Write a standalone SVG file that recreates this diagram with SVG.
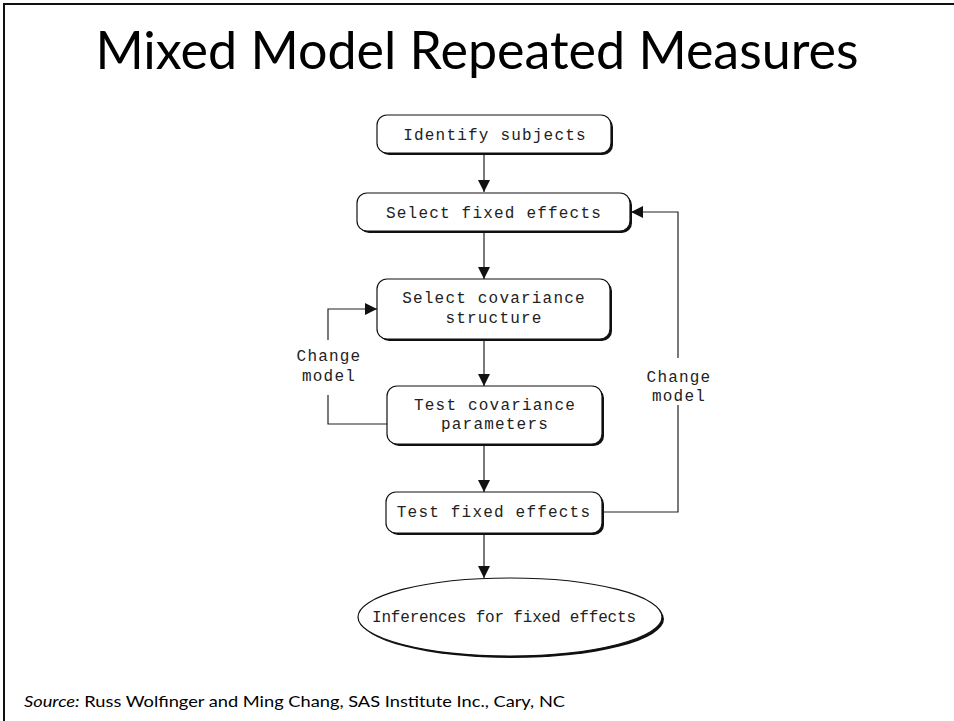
<svg xmlns="http://www.w3.org/2000/svg" width="954" height="721" viewBox="0 0 954 721">
<defs>
<marker id="arr" markerWidth="12" markerHeight="12" refX="12" refY="6" orient="auto" markerUnits="userSpaceOnUse">
<path d="M0,0 L12,6 L0,12 Z" fill="#111"/>
</marker>
<style>
.box{fill:#fff;stroke:#111;stroke-width:1.2}
.sh{fill:#111}
.t{font-family:"Liberation Mono","DejaVu Sans Mono",monospace;font-size:16px;letter-spacing:1.2px;fill:#222;text-anchor:middle}
.c{fill:none;stroke:#222;stroke-width:1.2}
</style>
</defs>
<rect x="0" y="0" width="954" height="721" fill="#fff"/>
<path d="M4,721 V4 H954" fill="none" stroke="#111" stroke-width="2"/>
<text x="477" y="69" font-family="Lato, 'Open Sans', sans-serif" font-size="52" text-anchor="middle" fill="#000">Mixed Model Repeated Measures</text>
<text x="24" y="707" font-family="Lato, 'Open Sans', sans-serif" font-size="16" fill="#000" textLength="541" lengthAdjust="spacingAndGlyphs"><tspan font-style="italic">Source:</tspan> Russ Wolfinger and Ming Chang, SAS Institute Inc., Cary, NC</text>

<g id="connectors">
<line class="c" x1="484" y1="153" x2="484" y2="192" marker-end="url(#arr)"/>
<line class="c" x1="484" y1="233" x2="484" y2="279" marker-end="url(#arr)"/>
<line class="c" x1="484" y1="341" x2="484" y2="386" marker-end="url(#arr)"/>
<line class="c" x1="484" y1="446" x2="484" y2="492" marker-end="url(#arr)"/>
<line class="c" x1="484" y1="535" x2="484" y2="578" marker-end="url(#arr)"/>
<polyline class="c" points="387,424 328,424 328,395"/>
<polyline class="c" points="328,340 328,309 377,309" marker-end="url(#arr)"/>
<polyline class="c" points="602,512 678,512 678,405"/>
<polyline class="c" points="678,358 678,212 631,212" marker-end="url(#arr)"/>
<text class="t" x="329" y="361">Change</text>
<text class="t" x="329" y="381">model</text>
<text class="t" x="679" y="382">Change</text>
<text class="t" x="679" y="401">model</text>
</g>

<g id="identify">
<rect class="sh" x="379" y="117" width="234" height="38" rx="10"/>
<rect class="box" x="377" y="115" width="234" height="38" rx="10"/>
<text class="t" x="495" y="140">Identify subjects</text>
</g>
<g id="select-fixed">
<rect class="sh" x="359" y="195" width="273" height="38" rx="10"/>
<rect class="box" x="357" y="193" width="273" height="38" rx="10"/>
<text class="t" x="494" y="218">Select fixed effects</text>
</g>
<g id="select-cov">
<rect class="sh" x="379" y="281" width="233" height="60" rx="10"/>
<rect class="box" x="377" y="279" width="233" height="60" rx="10"/>
<text class="t" x="494" y="303">Select covariance</text>
<text class="t" x="494" y="323">structure</text>
</g>
<g id="test-cov">
<rect class="sh" x="389" y="388" width="215" height="58" rx="10"/>
<rect class="box" x="387" y="386" width="215" height="58" rx="10"/>
<text class="t" x="495" y="410">Test covariance</text>
<text class="t" x="495" y="429">parameters</text>
</g>
<g id="test-fixed">
<rect class="sh" x="388" y="494" width="216" height="41" rx="10"/>
<rect class="box" x="386" y="492" width="216" height="41" rx="10"/>
<text class="t" x="494" y="517">Test fixed effects</text>
</g>
<g id="inferences">
<ellipse class="sh" cx="512" cy="619" rx="152" ry="39"/>
<ellipse class="box" cx="510" cy="617" rx="152" ry="39"/>
<text class="t" x="504" y="622" style="letter-spacing:0" textLength="264" lengthAdjust="spacing">Inferences for fixed effects</text>
</g>
</svg>
